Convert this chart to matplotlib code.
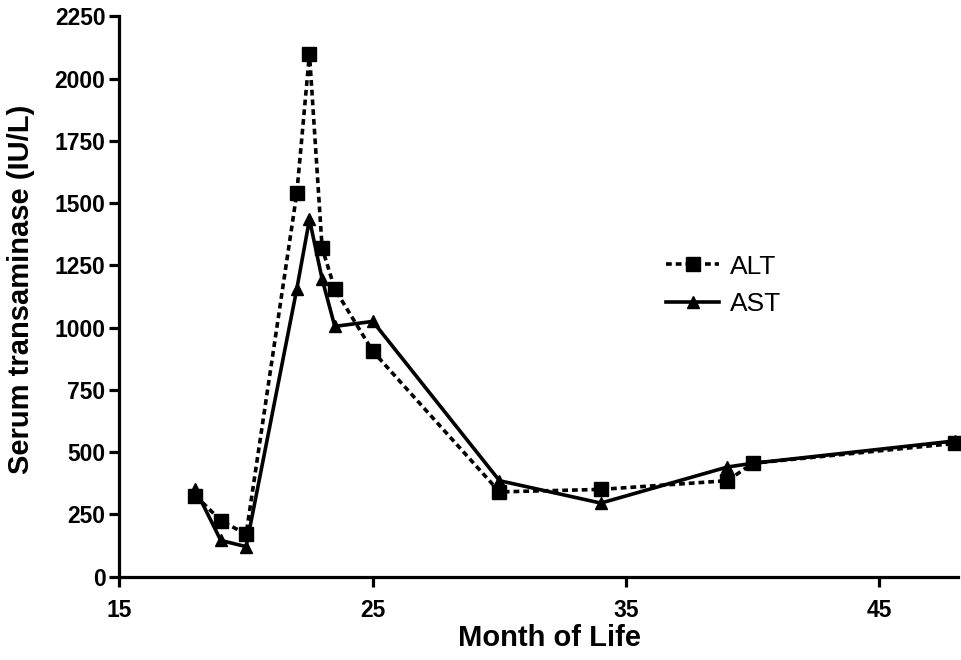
import matplotlib
matplotlib.use("Agg")
import matplotlib.pyplot as plt

plt.rcParams["font.family"] = ["Liberation Sans", "DejaVu Sans"]

months = [18, 19, 20, 22, 22.5, 23, 23.5, 25, 30, 34, 39, 40, 48]
alt_vals = [325, 225, 170, 1540, 2100, 1320, 1155, 905, 340, 350, 385, 455, 535]
ast_vals = [350, 145, 120, 1155, 1435, 1195, 1005, 1025, 385, 295, 440, 455, 545]
x_ticks = [15, 25, 35, 45]
y_ticks = [0, 250, 500, 750, 1000, 1250, 1500, 1750, 2000, 2250]

fig = plt.figure(figsize=(9.61, 6.60), dpi=100)
ax = fig.add_axes([0.1243, 0.1265, 0.8726, 0.8485])

ax.plot(months, alt_vals, color="black", lw=2.6, ls=(0, (1.6, 1.1)),
        marker="s", ms=10, label="ALT", clip_on=False, zorder=3)
ax.plot(months, ast_vals, color="black", lw=2.6, ls="-",
        marker="^", ms=9, label="AST", clip_on=False, zorder=3)

ax.set_xlim(15, 48.1)
ax.set_ylim(0, 2250)
ax.set_xticks(x_ticks)
ax.set_yticks(y_ticks)

for side in ("top", "right"):
    ax.spines[side].set_visible(False)
for side in ("left", "bottom"):
    ax.spines[side].set_linewidth(2.3)

ax.tick_params(axis="both", direction="out", length=7, width=2.3,
               labelsize=16.5)
ax.tick_params(axis="x", pad=9)
ax.tick_params(axis="y", pad=3)
for lab in ax.get_xticklabels() + ax.get_yticklabels():
    lab.set_fontweight("bold")

ax.set_xlabel("Month of Life", fontsize=21, fontweight="bold", va="center")
ax.set_ylabel("Serum transaminase (IU/L)", fontsize=21, fontweight="bold", va="center")
ax.xaxis.set_label_coords(0.513, -0.11)
ax.yaxis.set_label_coords(-0.118, 0.513)

ax.legend(loc="upper left", bbox_to_anchor=(0.624, 0.617), frameon=False,
          fontsize=19, handlelength=2.0, numpoints=1, handletextpad=0.4,
          labelspacing=0.5)

fig.savefig("out.png", dpi=100)
